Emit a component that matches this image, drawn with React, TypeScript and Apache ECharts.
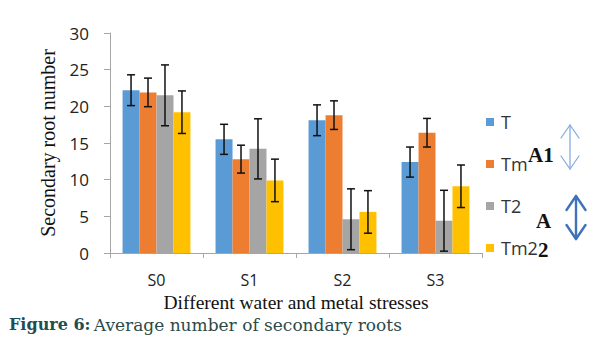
import React, { useEffect, useRef } from "react";
import * as echarts from "echarts";

const categories = ["S0", "S1", "S2", "S3"];
const seriesNames = ["T", "Tm", "T2", "Tm2"];
const valT = [22.2, 15.5, 18.1, 12.4];
const valTm = [21.9, 12.8, 18.8, 16.4];
const valT2 = [21.5, 14.2, 4.6, 4.4];
const valTm2 = [19.2, 9.9, 5.6, 9.1];
const errT = [2.1, 2.05, 2.1, 2.05];
const errTm = [1.95, 1.9, 1.95, 1.95];
const errT2 = [4.15, 4.1, 4.15, 4.15];
const errTm2 = [2.9, 2.9, 2.9, 2.9];
const colors = ["#5B9BD5", "#ED7D31", "#A5A5A5", "#FFC000"];

const BAR_GAP_RATIO = 0.27;

function arrowParts(cx: number, top: number, bottom: number, half: number, head: number, color: string, w: number) {
  const style = { stroke: color, lineWidth: w, fill: "none", lineCap: "round", lineJoin: "round" };
  return [
    { type: "line", shape: { x1: cx, y1: top, x2: cx, y2: bottom }, style, z: 100 },
    {
      type: "polyline",
      shape: { points: [[cx - half, top + head], [cx, top], [cx + half, top + head]] },
      style,
      z: 100,
    },
    {
      type: "polyline",
      shape: { points: [[cx - half, bottom - head], [cx, bottom], [cx + half, bottom - head]] },
      style,
      z: 100,
    },
  ];
}

export default function App() {
  const ref = useRef<HTMLDivElement>(null);
  useEffect(() => {
    if (!ref.current) return;
    const chart = echarts.init(ref.current, undefined, { renderer: "svg" });
    const values = [valT, valTm, valT2, valTm2];
    const errs = [errT, errTm, errT2, errTm2];
    const errData: number[][] = [];
    values.forEach((vals, s) => {
      vals.forEach((v, c) => {
        errData.push([c, s, v - errs[s][c], v + errs[s][c]]);
      });
    });
    const sans = "'Open Sans', sans-serif";
    const serif = "'Liberation Serif', serif";
    chart.setOption({
      animation: false,
      grid: { left: 110, right: 123, top: 33, bottom: 107 },
      legend: {
        data: seriesNames,
        orient: "vertical",
        left: 481,
        top: 108,
        itemWidth: 8,
        itemHeight: 8,
        itemGap: 24,
        icon: "rect",
        textStyle: { fontFamily: sans, fontSize: 18, color: "#333", padding: [0, 0, 0, 2] },
      },
      xAxis: {
        type: "category",
        data: categories,
        axisLine: { lineStyle: { color: "#A6A6A6", width: 1 } },
        axisTick: { show: true, length: 5, lineStyle: { color: "#A6A6A6" } },
        axisLabel: { fontFamily: sans, fontSize: 16, color: "#222", margin: 19 },
        name: "Different water and metal stresses",
        nameLocation: "middle",
        nameGap: 36,
        nameTextStyle: { fontFamily: serif, fontSize: 19.5, color: "#111" },
      },
      yAxis: {
        type: "value",
        min: 0,
        max: 30,
        interval: 5,
        splitLine: { show: false },
        axisLine: { show: true, lineStyle: { color: "#A6A6A6", width: 1 } },
        axisTick: { show: true, length: 6, lineStyle: { color: "#A6A6A6" } },
        axisLabel: { fontFamily: sans, fontSize: 17, color: "#222", margin: 21 },
        name: "Secondary root number",
        nameLocation: "middle",
        nameGap: 52,
        nameTextStyle: { fontFamily: serif, fontSize: 20, color: "#111" },
      },
      series: [
        ...seriesNames.map((n, i) => ({
          name: n,
          type: "bar",
          data: values[i],
          barGap: "0%",
          barCategoryGap: `${BAR_GAP_RATIO * 100}%`,
          itemStyle: { color: colors[i] },
        })),
        {
          type: "custom",
          name: "err",
          data: errData,
          encode: { x: 0, y: [2, 3] },
          z: 10,
          renderItem: (params: any, api: any) => {
            const c = api.value(0);
            const s = api.value(1);
            const lo = api.value(2);
            const hi = api.value(3);
            const band = api.size([1, 0])[0];
            const bw = (band * (1 - BAR_GAP_RATIO)) / 4;
            const cx = api.coord([c, 0])[0] + (s - 1.5) * bw;
            const yHi = api.coord([c, hi])[1];
            const yLo = api.coord([c, lo])[1];
            const cap = 4;
            const style = { stroke: "#111", lineWidth: 1.5 };
            return {
              type: "group",
              children: [
                { type: "line", shape: { x1: cx, y1: yHi, x2: cx, y2: yLo }, style },
                { type: "line", shape: { x1: cx - cap, y1: yHi, x2: cx + cap, y2: yHi }, style },
                { type: "line", shape: { x1: cx - cap, y1: yLo, x2: cx + cap, y2: yLo }, style },
              ],
            };
          },
        },
      ],
      graphic: [
        ...arrowParts(570, 125, 169, 9, 13, "#86AEDD", 1.3),
        ...arrowParts(576, 196, 239, 9.5, 14, "#3F72B8", 2.4),
        {
          type: "text",
          left: 528,
          top: 144,
          style: { text: "A1", font: "bold 21px 'Liberation Serif', serif", fill: "#111" },
          z: 100,
        },
        {
          type: "text",
          left: 536,
          top: 210,
          style: { text: "A", font: "bold 21px 'Liberation Serif', serif", fill: "#111" },
          z: 100,
        },
        {
          type: "text",
          left: 538,
          top: 239,
          style: { text: "2", font: "bold 21px 'Liberation Serif', serif", fill: "#111" },
          z: 100,
        },
        {
          type: "text",
          left: 9,
          top: 316,
          style: {
            text: "{b|Figure 6:} {n|Average number of secondary roots}",
            rich: {
              b: { font: "bold 16px 'DejaVu Serif', serif", fill: "#1F4E52" },
              n: { font: "17px 'DejaVu Serif', serif", fill: "#2A4A4A" },
            },
          },
          z: 100,
        },
      ],
    });
    return () => chart.dispose();
  }, []);
  return <div ref={ref} style={{ position: "fixed", left: 0, top: 0, width: 605, height: 360, background: "#fff" }} />;
}
